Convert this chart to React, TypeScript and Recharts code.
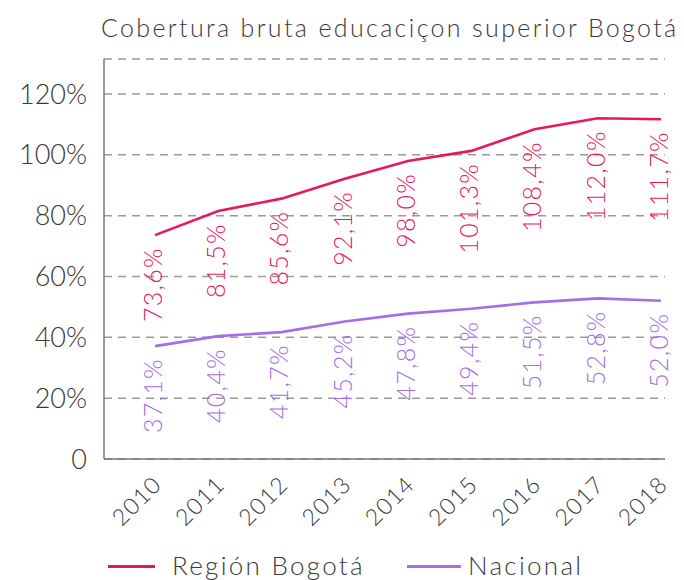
import React from 'react';
import { LineChart, Line, XAxis, YAxis, CartesianGrid, Legend, LabelList } from 'recharts';

const years = ['2010', '2011', '2012', '2013', '2014', '2015', '2016', '2017', '2018'];
const regionBogota = [73.6, 81.5, 85.6, 92.1, 98.0, 101.3, 108.4, 112.0, 111.7];
const nacional = [37.1, 40.4, 41.7, 45.2, 47.8, 49.4, 51.5, 52.8, 52.0];
const yTicks = [0, 20, 40, 60, 80, 100, 120];

const data = years.map((y, i) => ({ year: y, region: regionBogota[i], nacional: nacional[i] }));

const FONT = 'Lato, "Open Sans", sans-serif';
const W = 300;
const RED = '#E8185E';
const PURPLE = '#A46EE6';
const TEXT = '#3a3a3a';

const fmt = (v: number) => v.toFixed(1).replace('.', ',') + '%';

const makeLabel = (color: string) => (props: any) => {
  const { x, y, value } = props;
  const ax = x - 3;
  const ay = y + 12;
  return (
    <text
      x={ax}
      y={ay}
      transform={`rotate(-90 ${ax} ${ay})`}
      textAnchor="end"
      dominantBaseline="central"
      fill={color}
      fontFamily={FONT}
      fontWeight={W}
      fontSize={25}
      letterSpacing={1.3}
    >
      {fmt(value)}
    </text>
  );
};

const XTick = (props: any) => {
  const { x, y, payload } = props;
  const ax = x + 8;
  const ay = y + 19;
  return (
    <text
      x={ax}
      y={ay}
      transform={`rotate(-45 ${ax} ${ay})`}
      textAnchor="end"
      fill={TEXT}
      fontFamily={FONT}
      fontWeight={W}
      fontSize={23}
      letterSpacing={1.2}
    >
      {payload.value}
    </text>
  );
};

const LegendContent = () => (
  <div
    style={{
      position: 'relative',
      height: 40,
      width: 684,
      fontFamily: FONT,
      fontWeight: W,
      fontSize: 26,
      letterSpacing: 2.3,
      color: TEXT,
    }}
  >
    <div style={{ position: 'absolute', left: 108, top: 25, width: 47, height: 3, background: RED }} />
    <div style={{ position: 'absolute', left: 172, top: 10, lineHeight: '30px', whiteSpace: 'nowrap' }}>Región Bogotá</div>
    <div style={{ position: 'absolute', left: 407, top: 25, width: 54, height: 3, background: PURPLE }} />
    <div style={{ position: 'absolute', left: 468, top: 10, lineHeight: '30px', whiteSpace: 'nowrap' }}>Nacional</div>
  </div>
);

export default function App() {
  return (
    <div style={{ position: 'absolute', left: 0, top: 0, width: 684, height: 580, background: '#fff' }}>
      <div
        style={{
          position: 'absolute',
          left: 101,
          top: 12,
          fontFamily: FONT,
          fontWeight: W,
          fontSize: 25,
          letterSpacing: 2.35,
          lineHeight: '30px',
          color: TEXT,
          whiteSpace: 'nowrap',
        }}
      >
        Cobertura bruta educaciçon superior Bogotá
      </div>
      <LineChart width={684} height={580} data={data} margin={{ top: 59, right: 19, bottom: 0, left: 0 }}>
        <CartesianGrid vertical={false} stroke="#9a9a9a" strokeDasharray="8 6" strokeWidth={1.5} />
        <XAxis
          dataKey="year"
          height={81}
          padding={{ left: 51, right: 4 }}
          axisLine={{ stroke: '#777', strokeWidth: 1.5 }}
          tickLine={false}
          tick={<XTick />}
          interval={0}
        />
        <YAxis
          width={104}
          domain={[0, 131.5]}
          ticks={yTicks}
          axisLine={{ stroke: '#777', strokeWidth: 1.5 }}
          tickLine={false}
          tickSize={0}
          tickMargin={17}
          tickFormatter={(v: number) => (v === 0 ? '0' : `${v}%`)}
          tick={{ fill: TEXT, fontFamily: FONT, fontWeight: W, fontSize: 27 }}
        />
        <Legend verticalAlign="bottom" content={<LegendContent />} wrapperStyle={{ height: 40 }} />
        <Line
          type="linear"
          dataKey="region"
          name="Región Bogotá"
          stroke={RED}
          strokeWidth={2.6}
          dot={false}
          isAnimationActive={false}
        >
          <LabelList dataKey="region" content={makeLabel(RED)} />
        </Line>
        <Line
          type="linear"
          dataKey="nacional"
          name="Nacional"
          stroke={PURPLE}
          strokeWidth={2.6}
          dot={false}
          isAnimationActive={false}
        >
          <LabelList dataKey="nacional" content={makeLabel(PURPLE)} />
        </Line>
      </LineChart>
    </div>
  );
}
